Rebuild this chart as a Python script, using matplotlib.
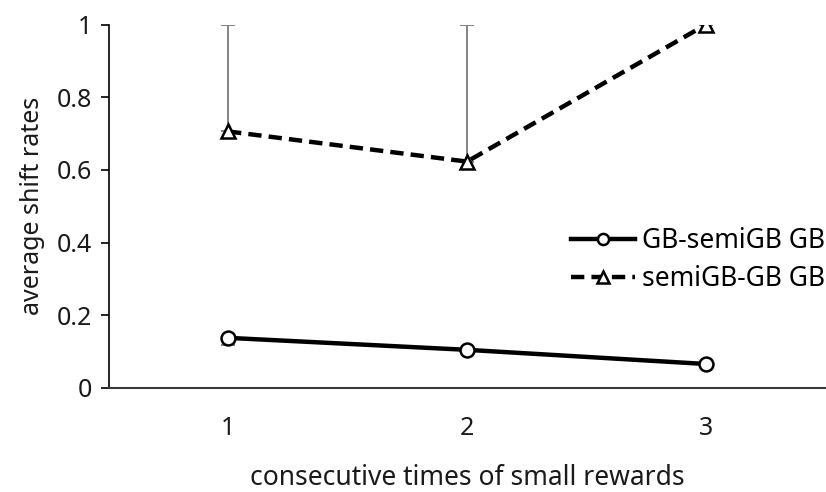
import matplotlib
matplotlib.use("Agg")
import matplotlib.pyplot as plt

plt.rcParams['font.family'] = ['Noto Sans', 'DejaVu Sans']

# Data
x_vals = [1, 2, 3]
gb_semigb = [0.138, 0.105, 0.066]
gb_semigb_err_low = [0.02, 0.0, 0.0]
gb_semigb_err_high = [0.0, 0.0, 0.0]
semigb_gb = [0.706, 0.623, 1.0]
semigb_gb_err_low = [0.0, 0.0, 0.0]
semigb_gb_err_high = [0.294, 0.377, 0.0]
series_labels = ["GB-semiGB GB", "semiGB-GB GB"]
x_label = "consecutive times of small rewards"
y_label = "average shift rates"
y_ticks = [0, 0.2, 0.4, 0.6, 0.8, 1]
y_tick_labels = ["0", "0.2", "0.4", "0.6", "0.8", "1"]

fig = plt.figure(figsize=(8.26, 4.92), dpi=100)
ax = fig.add_axes([0.1314, 0.2114, 0.868, 0.7386])

err_kw = dict(ecolor='#7a7a7a', elinewidth=1.3, capsize=5, capthick=1.3, zorder=2)

ax.errorbar(x_vals, gb_semigb, yerr=[gb_semigb_err_low, gb_semigb_err_high],
            fmt='none', **err_kw)
ax.errorbar(x_vals, semigb_gb, yerr=[semigb_gb_err_low, semigb_gb_err_high],
            fmt='none', **err_kw)

ax.plot(x_vals, gb_semigb, color='black', linewidth=3.2, linestyle='-',
        marker='o', markersize=10, markerfacecolor='white',
        markeredgecolor='black', markeredgewidth=1.8, label=series_labels[0], zorder=3)
ax.plot(x_vals, semigb_gb, color='black', linewidth=3.2, linestyle=(0, (3, 1.6)),
        marker='^', markersize=10, markerfacecolor='white',
        markeredgecolor='black', markeredgewidth=1.8, label=series_labels[1], zorder=3)

ax.set_xlim(0.5, 3.5)
ax.set_ylim(0, 1)
ax.set_xticks(x_vals)
ax.set_xticklabels([str(v) for v in x_vals])
ax.set_yticks(y_ticks)
ax.set_yticklabels(y_tick_labels)

ax.tick_params(axis='x', length=0, pad=20, labelsize=18, colors='#1a1a1a')
ax.tick_params(axis='y', direction='out', length=6, width=1.2, pad=6,
               labelsize=18, colors='black', labelcolor='#1a1a1a')

for side in ('top', 'right'):
    ax.spines[side].set_visible(False)
ax.spines['left'].set_linewidth(1.2)
ax.spines['left'].set_color('black')
ax.spines['bottom'].set_linewidth(1.5)
ax.spines['bottom'].set_color('#3a3a3a')

ax.set_xlabel(x_label, fontsize=19, labelpad=17, color='#1a1a1a')
ax.set_ylabel(y_label, fontsize=18, labelpad=8, color='#1a1a1a')

leg = ax.legend(loc='center left', bbox_to_anchor=(0.63, 0.352), frameon=False,
                fontsize=19, handlelength=2.45, handletextpad=0.25,
                labelspacing=0.4, borderaxespad=0, markerscale=0.8)

fig.savefig("out.png", dpi=100)
